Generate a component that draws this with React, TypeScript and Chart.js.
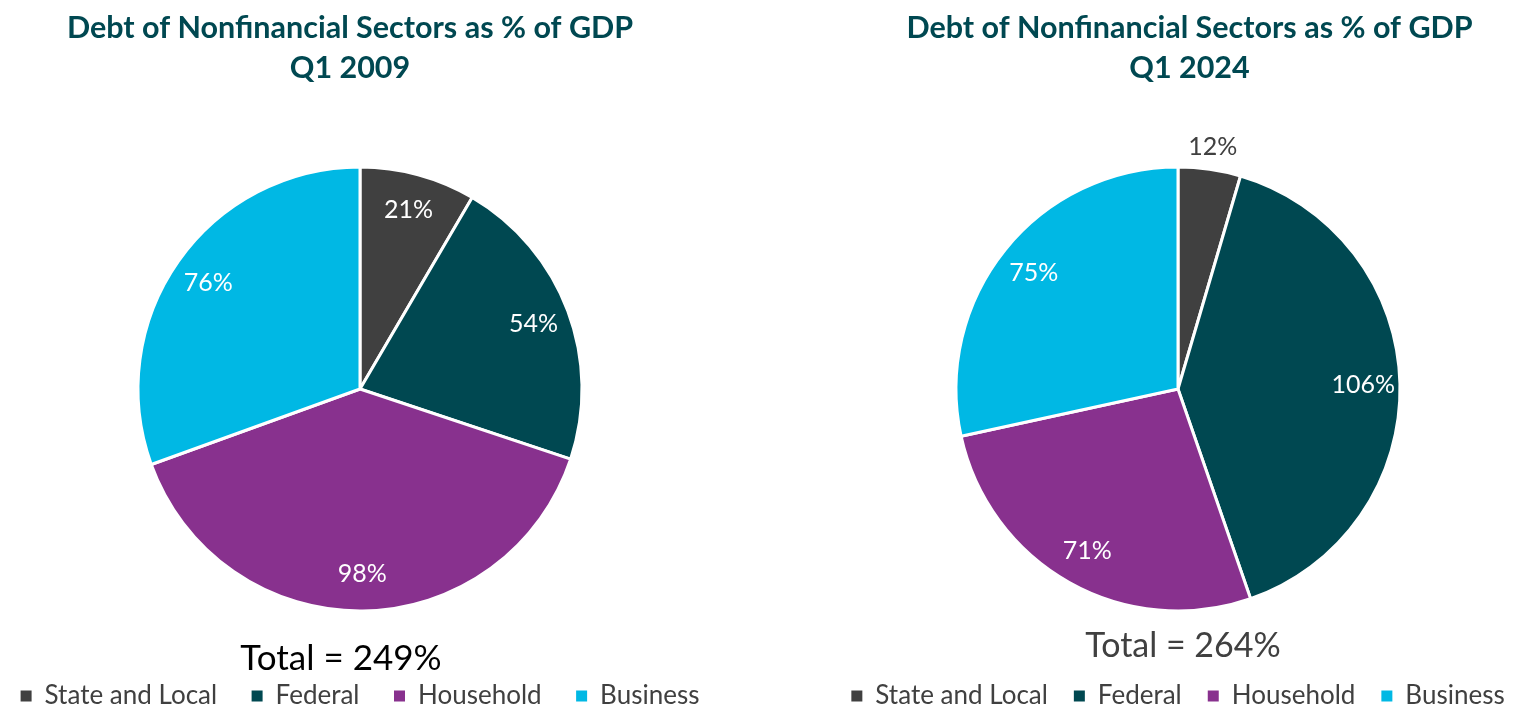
import React, { useEffect, useRef } from "react";
import { Chart, registerables } from "chart.js";

Chart.register(...registerables);

// ---- data ----
const categories = ["State and Local", "Federal", "Household", "Business"];
const values2009 = [21, 54, 98, 76];
const values2024 = [12, 106, 71, 75];
const heading2009 = ["Debt of Nonfinancial Sectors as % of GDP", "Q1 2009"];
const heading2024 = ["Debt of Nonfinancial Sectors as % of GDP", "Q1 2024"];
const sliceColors = ["#404040", "#004851", "#88318E", "#00B8E4"];

const FONT = "Lato, 'Open Sans', sans-serif";

const annotatePlugin = {
  id: "annot",
  afterDatasetsDraw(chart: any, _args: any, opts: any) {
    const ctx = chart.ctx;
    const meta = chart.getDatasetMeta(0);
    const ds = chart.data.datasets[0];
    ctx.save();
    ctx.textAlign = "center";
    ctx.textBaseline = "middle";
    ctx.font = `${opts.labelSize}px ${FONT}`;
    meta.data.forEach((arc: any, i: number) => {
      const p = arc.getProps(["x", "y", "startAngle", "endAngle", "outerRadius"], true);
      const mid = (p.startAngle + p.endAngle) / 2;
      const small = p.endAngle - p.startAngle < opts.smallAngle;
      const r = p.outerRadius * (small ? opts.outsideFactor : opts.insideFactor);
      ctx.fillStyle = small ? opts.outsideColor : opts.insideColor;
      ctx.fillText(`${ds.data[i]}%`, p.x + Math.cos(mid) * r, p.y + Math.sin(mid) * r);
    });
    const cx = (chart.chartArea.left + chart.chartArea.right) / 2;
    ctx.font = `bold ${opts.headingSize}px ${FONT}`;
    ctx.fillStyle = opts.headingColor;
    opts.heading.forEach((line: string, k: number) => {
      ctx.fillText(line, cx + opts.headingDx, opts.headingY + k * opts.headingGap);
    });
    const total = (ds.data as number[]).reduce((a, b) => a + b, 0);
    ctx.font = `${opts.totalSize}px ${FONT}`;
    ctx.fillStyle = opts.totalColor;
    ctx.fillText(`Total = ${total}%`, cx + opts.totalDx, opts.totalY);
    ctx.restore();
  },
};

function legendLabels(chart: any) {
  const ov: any = (Chart as any).overrides;
  const gen = (ov.pie && ov.pie.plugins && ov.pie.plugins.legend && ov.pie.plugins.legend.labels.generateLabels) ||
    ov.doughnut.plugins.legend.labels.generateLabels;
  return gen(chart).map((l: any) => ({ ...l, lineWidth: 0, strokeStyle: "rgba(0,0,0,0)", fontColor: "#404040" }));
}

type PieProps = {
  values: number[];
  heading: string[];
  left: number;
  width: number;
  padTop: number;
  padBottom: number;
  legendPadding: number;
  headingDx: number;
  totalDx: number;
  totalY: number;
  totalSize: number;
  totalColor: string;
};

function PieChart(props: PieProps) {
  const ref = useRef<HTMLCanvasElement | null>(null);
  useEffect(() => {
    if (!ref.current) return;
    const chart = new Chart(ref.current, {
      type: "pie",
      data: {
        labels: categories,
        datasets: [
          {
            data: props.values,
            backgroundColor: sliceColors,
            borderColor: "#ffffff",
            borderWidth: 3,
            radius: 222,
          } as any,
        ],
      },
      options: {
        animation: false,
        responsive: false,
        layout: { padding: { top: props.padTop, bottom: props.padBottom, left: 0, right: 0 } },
        plugins: {
          tooltip: { enabled: false },
          title: { display: false },
          legend: {
            display: true,
            position: "bottom",
            labels: {
              boxWidth: 11,
              boxHeight: 11,
              padding: props.legendPadding,
              color: "#404040",
              font: { family: FONT, size: 26 },
              generateLabels: legendLabels,
            },
          },
          annot: {
            labelSize: 25,
            smallAngle: 0.45,
            insideFactor: 0.835,
            outsideFactor: 1.1,
            insideColor: "#ffffff",
            outsideColor: "#404040",
            heading: props.heading,
            headingSize: 30.5,
            headingColor: "#004851",
            headingDx: props.headingDx,
            headingY: 28,
            headingGap: 40,
            totalSize: props.totalSize,
            totalColor: props.totalColor,
            totalDx: props.totalDx,
            totalY: props.totalY,
          },
        } as any,
      },
      plugins: [annotatePlugin as any],
    });
    return () => chart.destroy();
  }, []);
  return (
    <canvas
      ref={ref}
      width={props.width}
      height={720}
      style={{ position: "absolute", left: props.left, top: 0, width: props.width, height: 720 }}
    />
  );
}

export default function App() {
  return (
    <div
      style={{
        position: "fixed",
        left: 0,
        top: 0,
        width: 1526,
        height: 720,
        overflow: "hidden",
        background: "#ffffff",
      }}
    >
      <PieChart
        values={values2009}
        heading={heading2009}
        left={-42}
        width={804}
        padTop={129.5}
        padBottom={1}
        legendPadding={34.5}
        headingDx={-10}
        totalDx={-19}
        totalY={659}
        totalSize={35}
        totalColor="#000000"
      />
      <PieChart
        values={values2024}
        heading={heading2024}
        left={788}
        width={780}
        padTop={121}
        padBottom={1}
        legendPadding={26}
        headingDx={11.5}
        totalDx={5}
        totalY={646}
        totalSize={34}
        totalColor="#404040"
      />
    </div>
  );
}
